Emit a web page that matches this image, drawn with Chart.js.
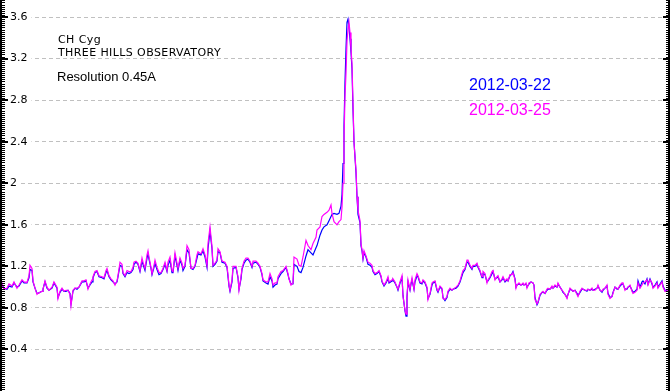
<!DOCTYPE html>
<html>
<head>
<meta charset="utf-8">
<script src="https://cdn.jsdelivr.net/npm/chart.js@4.4.1/dist/chart.umd.min.js"></script>
<style>
  html, body { margin: 0; padding: 0; background: #fff; }
  .wrap { position: relative; width: 670px; height: 391px; }
</style>
</head>
<body>
<div class="wrap"><canvas id="spectrum"></canvas></div>
<script>
// sample positions along the (unlabelled) wavelength axis
const position = [
  0, 2, 4, 7, 9, 12, 14, 17, 19, 22,
  24, 27, 29, 30, 32, 33, 35, 37, 38, 42,
  43, 45, 47, 49, 52, 54, 57, 58, 60, 62,
  64, 66, 68, 70, 71, 73, 75, 77, 79, 82,
  84, 86, 88, 90, 92, 93, 95, 97, 99, 102,
  104, 106, 107, 109, 111, 113, 115, 117, 118, 120,
  122, 123, 125, 127, 129, 131, 133, 134, 136, 138,
  140, 142, 143, 145, 147, 148, 149, 151, 152, 154,
  155, 157, 159, 161, 163, 165, 167, 168, 170, 172,
  173, 175, 177, 178, 180, 182, 183, 185, 187, 189,
  191, 193, 195, 197, 198, 201, 203, 205, 207, 208,
  210, 212, 213, 215, 217, 218, 220, 222, 225, 227,
  228, 229, 230, 232, 233, 236, 238, 239, 241, 242,
  244, 246, 248, 250, 252, 253, 256, 258, 260, 262,
  263, 266, 268, 270, 272, 273, 275, 277, 278, 281,
  283, 286, 288, 289, 291, 293, 294, 297, 299, 301,
  303, 306, 308, 311, 313, 316, 317, 320, 322, 324,
  327, 329, 331, 332, 334, 337, 339, 341, 342, 343,
  344, 345, 346, 347, 348, 349, 350, 351, 352, 353,
  354, 356, 357, 358, 360, 361, 362, 363, 364, 366,
  368, 370, 372, 373, 375, 377, 379, 381, 382, 384,
  386, 388, 389, 392, 393, 395, 397, 398, 400, 402,
  403, 405, 406, 407, 408, 410, 411, 412, 414, 415,
  417, 418, 420, 422, 423, 425, 427, 428, 430, 432,
  433, 435, 437, 438, 440, 442, 443, 445, 447, 448,
  450, 452, 453, 456, 458, 460, 462, 463, 465, 467,
  468, 470, 472, 473, 475, 477, 478, 480, 482, 483,
  485, 487, 488, 490, 492, 493, 495, 497, 498, 500,
  502, 503, 505, 507, 508, 510, 512, 513, 515, 516,
  517, 519, 521, 523, 524, 526, 527, 529, 531, 533,
  534, 535, 537, 538, 540, 542, 543, 545, 547, 548,
  550, 552, 553, 555, 557, 558, 560, 562, 563, 565,
  567, 568, 570, 572, 573, 575, 577, 578, 580, 582,
  583, 585, 587, 588, 590, 592, 593, 595, 597, 598,
  600, 602, 603, 605, 607, 608, 610, 612, 613, 615,
  617, 618, 620, 622, 623, 625, 627, 628, 630, 632,
  633, 635, 637, 638, 640, 642, 643, 645, 647, 648,
  650, 652, 653, 655, 657, 658, 660, 662, 663, 665,
  667, 668
];

// relative flux, 2012-03-22 (blue)
const flux0322 = [
  1.13, 1.02, 0.99, 0.98, 1.01, 1.00, 1.04, 1.00, 1.01, 1.06,
  1.04, 1.04, 1.09, 1.17, 1.16, 1.05, 0.99, 0.94, 0.94, 0.96,
  0.98, 1.05, 0.99, 0.97, 0.99, 1.04, 0.99, 0.90, 0.95, 0.98,
  0.96, 0.96, 0.97, 0.94, 0.84, 0.96, 0.99, 0.98, 1.00, 1.05,
  1.05, 1.06, 0.99, 1.02, 1.05, 1.09, 1.14, 1.15, 1.10, 1.09,
  1.08, 1.14, 1.16, 1.10, 1.07, 1.05, 1.03, 1.05, 1.10, 1.21,
  1.20, 1.13, 1.10, 1.14, 1.13, 1.14, 1.17, 1.22, 1.24, 1.22,
  1.15, 1.25, 1.22, 1.16, 1.28, 1.32, 1.27, 1.18, 1.12, 1.19,
  1.23, 1.17, 1.12, 1.13, 1.17, 1.22, 1.15, 1.21, 1.26, 1.14,
  1.14, 1.30, 1.21, 1.16, 1.26, 1.21, 1.16, 1.20, 1.36, 1.33,
  1.18, 1.17, 1.20, 1.28, 1.32, 1.31, 1.35, 1.29, 1.19, 1.37,
  1.54, 1.37, 1.20, 1.22, 1.25, 1.34, 1.33, 1.24, 1.23, 1.19,
  1.10, 1.01, 0.96, 1.05, 1.18, 1.19, 1.09, 0.98, 1.08, 1.17,
  1.23, 1.26, 1.27, 1.24, 1.19, 1.23, 1.24, 1.22, 1.19, 1.12,
  1.06, 1.04, 1.03, 1.10, 1.06, 1.00, 1.02, 1.03, 1.08, 1.13,
  1.15, 1.19, 1.12, 1.08, 1.03, 1.03, 1.22, 1.20, 1.15, 1.14,
  1.19, 1.30, 1.36, 1.33, 1.31, 1.38, 1.40, 1.50, 1.55, 1.58,
  1.60, 1.64, 1.68, 1.70, 1.71, 1.70, 1.71, 1.78, 1.89, 2.19,
  2.55, 2.97, 3.29, 3.55, 3.58, 3.50, 3.39, 3.26, 3.10, 2.71,
  2.40, 2.10, 1.87, 1.70, 1.62, 1.40, 1.35, 1.27, 1.33, 1.29,
  1.22, 1.21, 1.19, 1.15, 1.12, 1.13, 1.15, 1.10, 1.05, 1.01,
  1.04, 1.08, 1.04, 1.06, 1.07, 1.04, 1.00, 0.97, 1.04, 1.09,
  0.92, 0.77, 0.72, 0.90, 1.05, 0.97, 1.03, 1.07, 0.98, 1.05,
  1.11, 1.10, 1.04, 1.03, 1.06, 1.04, 0.99, 0.89, 0.93, 1.02,
  1.04, 1.05, 0.97, 0.95, 1.00, 0.98, 0.90, 0.87, 0.90, 0.95,
  0.98, 0.97, 0.98, 0.99, 1.01, 1.05, 1.11, 1.14, 1.17, 1.24,
  1.24, 1.20, 1.17, 1.20, 1.20, 1.22, 1.19, 1.15, 1.09, 1.13,
  1.12, 1.05, 1.06, 1.09, 1.13, 1.15, 1.08, 1.09, 1.10, 1.05,
  1.07, 1.09, 1.05, 1.07, 1.06, 1.11, 1.13, 1.15, 1.08, 1.00,
  1.02, 1.03, 1.02, 1.03, 1.02, 1.03, 1.00, 1.03, 1.05, 1.04,
  1.02, 0.90, 0.83, 0.85, 0.92, 0.95, 0.95, 0.94, 0.97, 0.98,
  0.98, 1.00, 0.99, 1.01, 1.00, 1.03, 1.00, 0.97, 0.95, 0.93,
  0.90, 0.93, 0.98, 0.97, 0.96, 0.97, 0.94, 0.92, 0.95, 0.98,
  0.98, 0.97, 0.96, 0.98, 0.97, 0.98, 0.97, 0.98, 0.99, 1.01,
  0.97, 0.95, 0.97, 0.99, 1.01, 0.94, 0.90, 0.91, 0.95, 1.00,
  0.98, 0.98, 1.01, 1.03, 1.03, 0.98, 0.98, 1.00, 1.01, 0.97,
  0.95, 0.96, 0.98, 1.06, 1.00, 1.05, 1.06, 1.03, 1.08, 1.03,
  1.08, 1.03, 1.00, 1.02, 1.05, 1.00, 1.03, 1.06, 1.01, 0.97,
  0.97, 0.98
];

// relative flux, 2012-03-25 (magenta)
const flux0325 = [
  1.145, 1.03, 0.98, 0.99, 1.03, 1.01, 1.05, 0.99, 1.02, 1.07,
  1.05, 1.045, 1.11, 1.21, 1.18, 1.06, 0.99, 0.93, 0.94, 0.96,
  0.98, 1.06, 1.00, 0.97, 1.00, 1.05, 1.00, 0.89, 0.96, 0.99,
  0.96, 0.97, 0.97, 0.93, 0.82, 0.97, 0.99, 0.99, 1.00, 1.06,
  1.06, 1.07, 0.98, 1.03, 1.07, 1.10, 1.15, 1.16, 1.11, 1.10,
  1.09, 1.16, 1.18, 1.11, 1.08, 1.06, 1.02, 1.06, 1.11, 1.24,
  1.22, 1.14, 1.11, 1.16, 1.15, 1.15, 1.19, 1.24, 1.25, 1.23,
  1.16, 1.28, 1.24, 1.18, 1.31, 1.35, 1.29, 1.19, 1.13, 1.21,
  1.26, 1.19, 1.14, 1.14, 1.18, 1.24, 1.16, 1.24, 1.29, 1.16,
  1.15, 1.33, 1.23, 1.18, 1.28, 1.23, 1.18, 1.21, 1.40, 1.36,
  1.18, 1.18, 1.21, 1.31, 1.34, 1.32, 1.37, 1.31, 1.21, 1.42,
  1.58, 1.39, 1.21, 1.23, 1.26, 1.37, 1.34, 1.25, 1.24, 1.20,
  1.12, 1.02, 0.97, 1.07, 1.20, 1.20, 1.10, 0.97, 1.10, 1.18,
  1.25, 1.28, 1.28, 1.25, 1.20, 1.25, 1.25, 1.23, 1.20, 1.13,
  1.07, 1.05, 1.05, 1.13, 1.08, 1.02, 1.04, 1.04, 1.10, 1.15,
  1.16, 1.20, 1.13, 1.08, 1.02, 1.04, 1.29, 1.27, 1.21, 1.20,
  1.29, 1.45, 1.40, 1.36, 1.42, 1.48, 1.55, 1.58, 1.68, 1.70,
  1.72, 1.74, 1.79, 1.71, 1.63, 1.60, 1.63, 1.65, 1.77, 2.00,
  2.42, 2.84, 3.06, 3.37, 3.48, 3.55, 3.45, 3.29, 3.15, 2.77,
  2.39, 2.13, 1.87, 1.74, 1.64, 1.42, 1.36, 1.28, 1.35, 1.30,
  1.24, 1.23, 1.21, 1.16, 1.13, 1.14, 1.16, 1.11, 1.06, 1.02,
  1.05, 1.10, 1.05, 1.07, 1.08, 1.05, 1.00, 0.98, 1.05, 1.11,
  0.91, 0.78, 0.74, 0.91, 1.07, 0.98, 1.04, 1.09, 0.98, 1.07,
  1.13, 1.11, 1.05, 1.04, 1.07, 1.05, 1.00, 0.88, 0.94, 1.04,
  1.05, 1.06, 0.98, 0.96, 1.01, 0.99, 0.89, 0.88, 0.91, 0.96,
  0.99, 0.97, 0.98, 1.00, 1.02, 1.06, 1.13, 1.16, 1.18, 1.26,
  1.26, 1.21, 1.18, 1.21, 1.21, 1.23, 1.20, 1.16, 1.10, 1.15,
  1.13, 1.04, 1.07, 1.10, 1.15, 1.16, 1.07, 1.10, 1.11, 1.05,
  1.08, 1.10, 1.06, 1.08, 1.06, 1.12, 1.12, 1.14, 1.07, 0.99,
  1.02, 1.04, 1.02, 1.04, 1.02, 1.04, 0.99, 1.04, 1.05, 1.04,
  1.02, 0.88, 0.84, 0.86, 0.93, 0.95, 0.96, 0.94, 0.98, 0.99,
  0.98, 1.01, 0.99, 1.02, 1.00, 1.04, 1.00, 0.97, 0.96, 0.93,
  0.89, 0.93, 0.99, 0.97, 0.96, 0.97, 0.93, 0.91, 0.96, 0.99,
  0.98, 0.97, 0.97, 0.98, 0.97, 0.99, 0.97, 0.97, 0.99, 1.02,
  0.97, 0.96, 0.98, 0.99, 1.02, 0.93, 0.89, 0.91, 0.94, 1.00,
  0.99, 0.98, 1.02, 1.04, 1.04, 0.97, 0.99, 1.00, 1.02, 0.96,
  0.94, 0.95, 0.97, 1.04, 0.99, 1.02, 1.04, 1.05, 1.07, 1.02,
  1.07, 1.04, 0.99, 1.01, 1.04, 0.99, 1.02, 1.05, 1.00, 0.96,
  0.96, 0.98
];

const seriesNames = ["2012-03-22", "2012-03-25"];
const seriesColors = ["#0000ff", "#ff00ff"];
const yTicks = [0.4, 0.8, 1.2, 1.6, 2, 2.4, 2.8, 3.2, 3.6];
const yMinorStep = 0.02;
const notes = ["CH Cyg", "THREE HILLS OBSERVATORY", "Resolution 0.45A"];

// left/right frame with major + minor ticks, like the original plot
const frame = {
  id: "frame",
  afterDraw(chart) {
    const { ctx, chartArea: a, scales: { y } } = chart;
    ctx.save();
    ctx.fillStyle = "#000";
    ctx.fillRect(a.left, a.top, 2, a.bottom - a.top);
    ctx.fillRect(a.right, a.top, 2, a.bottom - a.top);
    for (let v = 0; v <= y.max; v += yMinorStep) {
      const py = Math.round(y.getPixelForValue(v));
      ctx.fillRect(a.left + 2, py, 3, 1);
      ctx.fillRect(a.right - 2, py, 2, 1);
    }
    yTicks.forEach((v) => {
      const py = Math.round(y.getPixelForValue(v));
      ctx.fillRect(a.left + 2, py - 1, 6, 2);
      ctx.fillRect(a.right - 5, py - 1, 5, 2);
    });
    ctx.restore();
  },
};

const captions = {
  id: "captions",
  afterDraw(chart) {
    const { ctx } = chart;
    ctx.save();
    ctx.fillStyle = "#000";
    ctx.textBaseline = "alphabetic";
    ctx.textAlign = "left";
    ctx.font = '11px "DejaVu Sans"';
    ctx.letterSpacing = "0.4px";
    ctx.fillText(notes[0], 58, 43);
    ctx.fillText(notes[1], 58, 56);
    ctx.letterSpacing = "0px";
    ctx.font = '13px "Liberation Sans"';
    ctx.fillText(notes[2], 57, 81);
    ctx.font = '16px "Liberation Sans"';
    chart.data.datasets.forEach((ds, i) => {
      ctx.fillStyle = ds.borderColor;
      ctx.fillText(ds.label, 469, 90 + i * 25);
    });
    ctx.restore();
  },
};

const ctx = document.getElementById("spectrum").getContext("2d");

new Chart(ctx, {
  type: "line",
  data: {
    datasets: [
      {
        label: seriesNames[0],
        data: position.map((x, i) => ({ x, y: flux0322[i] })),
        borderColor: seriesColors[0],
        borderWidth: 1.2,
        pointRadius: 0,
        tension: 0,
        fill: false,
        order: 2,
      },
      {
        label: seriesNames[1],
        data: position.map((x, i) => ({ x, y: flux0325[i] })),
        borderColor: seriesColors[1],
        borderWidth: 1.2,
        pointRadius: 0,
        tension: 0,
        fill: false,
        order: 1,
      },
    ],
  },
  options: {
    responsive: true,
    maintainAspectRatio: false,
    animation: false,
    layout: { padding: { top: 0, left: 0, right: 2, bottom: 0 } },
    plugins: {
      legend: { display: false },
      tooltip: { enabled: false },
    },
    scales: {
      x: { type: "linear", min: 0, max: 668, display: false },
      y: {
        min: 0,
        max: 3.764,
        afterFit: (s) => {
          // labels sit inside the plot, so no room is reserved for them
          s.width = 0;
          s.paddingTop = 0;
          s.paddingBottom = 0;
        },
        afterBuildTicks: (s) => { s.ticks = yTicks.map((v) => ({ value: v })); },
        border: { display: false, dash: [4, 3] },
        grid: { color: "#c0c0c0", drawTicks: false, tickLength: 0 },
        ticks: {
          mirror: true,
          padding: 10,
          color: "#000",
          font: { family: "DejaVu Sans", size: 11 },
          callback: (v) => String(+Number(v).toFixed(1)),
          showLabelBackdrop: true,
          backdropColor: "#fff",
          backdropPadding: { left: 2, right: 4, top: 1, bottom: 1 },
        },
      },
    },
  },
  plugins: [frame, captions],
});
</script>
</body>
</html>
